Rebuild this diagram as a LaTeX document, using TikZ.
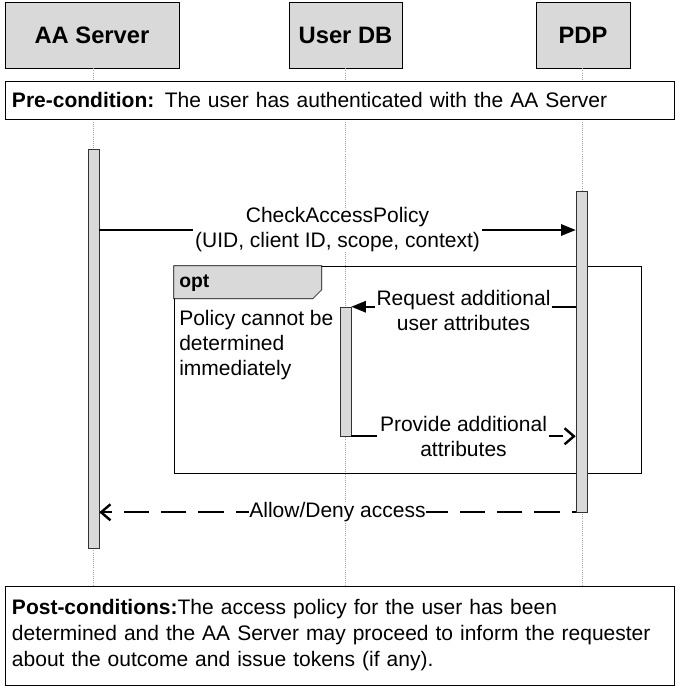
\documentclass[tikz,border=0pt]{standalone}
\usepackage{fontspec}
\setmainfont{Liberation Sans}
\usetikzlibrary{positioning, arrows.meta}

\definecolor{barfill}{HTML}{D9D9D9}
\definecolor{lifegray}{HTML}{A0A0A0}

\begin{document}
\begin{tikzpicture}[
    x=0.75pt, y=-0.75pt,
    every node/.style={font=\fontsize{15.75}{18.75}\selectfont},
    actor/.style={rectangle, draw, fill=barfill, minimum height=49.5pt, text height=12.6pt, text depth=0pt, font=\fontsize{17.8}{21}\selectfont\bfseries},
    note/.style={rectangle, draw, fill=white, minimum width=501.75pt, text width=491.25pt, align=left, inner xsep=5.25pt},
    activation/.style={rectangle, draw=black!80, fill=barfill, minimum width=8.25pt, inner sep=0pt},
    lifeline/.style={draw=lifegray, densely dotted, line width=0.6pt},
    call/.style={-{Triangle[length=11pt, width=8.5pt]}, line width=1.5pt},
    reply/.style={-{Straight Barb[length=7pt, width=12pt, line width=1.8pt]}, line width=1.5pt, dash pattern=on 19pt off 9pt},
    msglabel/.style={fill=white, inner xsep=1.5pt, inner ysep=0pt, align=center}
]
\useasboundingbox (0,0) rectangle (676,686);

% participants
\node[actor, minimum width=130.5pt] (aa) at (92,35) {AA Server};
\node[actor, minimum width=84.75pt] (userdb) at (345.5,35) {User DB};
\node[actor, minimum width=70.5pt] (pdp) at (583,35) {PDP};

\draw[lifeline] (aa.south) ++(1,0) -- ++(0,518);
\draw[lifeline] (userdb.south) -- ++(0,518);
\draw[lifeline] (pdp.south) ++(-1,0) -- ++(0,518);

\node[note, minimum height=28.5pt] (pre) at (339.5,100) {\textbf{Pre-condition:} The user has authenticated with the AA Server};

\node[note, minimum height=74.25pt, font=\fontsize{15.75}{19.5}\selectfont] (post) at (339.5,635.5) {%
    \textbf{Post-conditions:}The access policy for the user has been\\
    determined and the AA Server may proceed to inform the requester\\
    about the outcome and issue tokens (if any).};

% opt fragment
\node[draw, minimum width=350.25pt, minimum height=155.25pt, inner sep=0pt] (opt) at (407.5,369.5) {};
\draw[fill=barfill] (opt.north west) -- ++(148,0) -- ++(0,24) -- ++(-9,9) -- ++(-139,0) -- cycle;
\node[anchor=west, inner sep=0pt, font=\fontsize{14.5}{17}\selectfont\bfseries] (optlabel) at (179,283) {opt};
\node[anchor=north west, align=left, inner sep=0pt] (guard) at (179,310) {Policy cannot be\\determined\\immediately};

% activations
\node[activation, minimum height=299.25pt] (aabar) at (93.5,348.5) {};
\node[activation, minimum height=240.75pt] (pdpbar) at (581.5,351.5) {};
\node[activation, minimum height=96.75pt] (dbbar) at (345.5,371.5) {};

% messages
\coordinate (m1) at (0,230);
\draw[call] (aabar.east |- m1) -- node[msglabel] {CheckAccessPolicy\\(UID, client ID, scope, context)} (pdpbar.west |- m1);
\draw[call] (pdpbar.west |- dbbar.north) -- node[msglabel, yshift=-2.5pt] {Request additional\\user attributes} (dbbar.north east);
\draw[reply] (dbbar.south east) -- node[msglabel] {Provide additional\\attributes} (pdpbar.west |- dbbar.south);
\draw[reply, dash phase=16pt] (pdpbar.south west) -- node[msglabel, inner xsep=0pt] {Allow/Deny access} (aabar.east |- pdpbar.south);

\end{tikzpicture}
\end{document}
